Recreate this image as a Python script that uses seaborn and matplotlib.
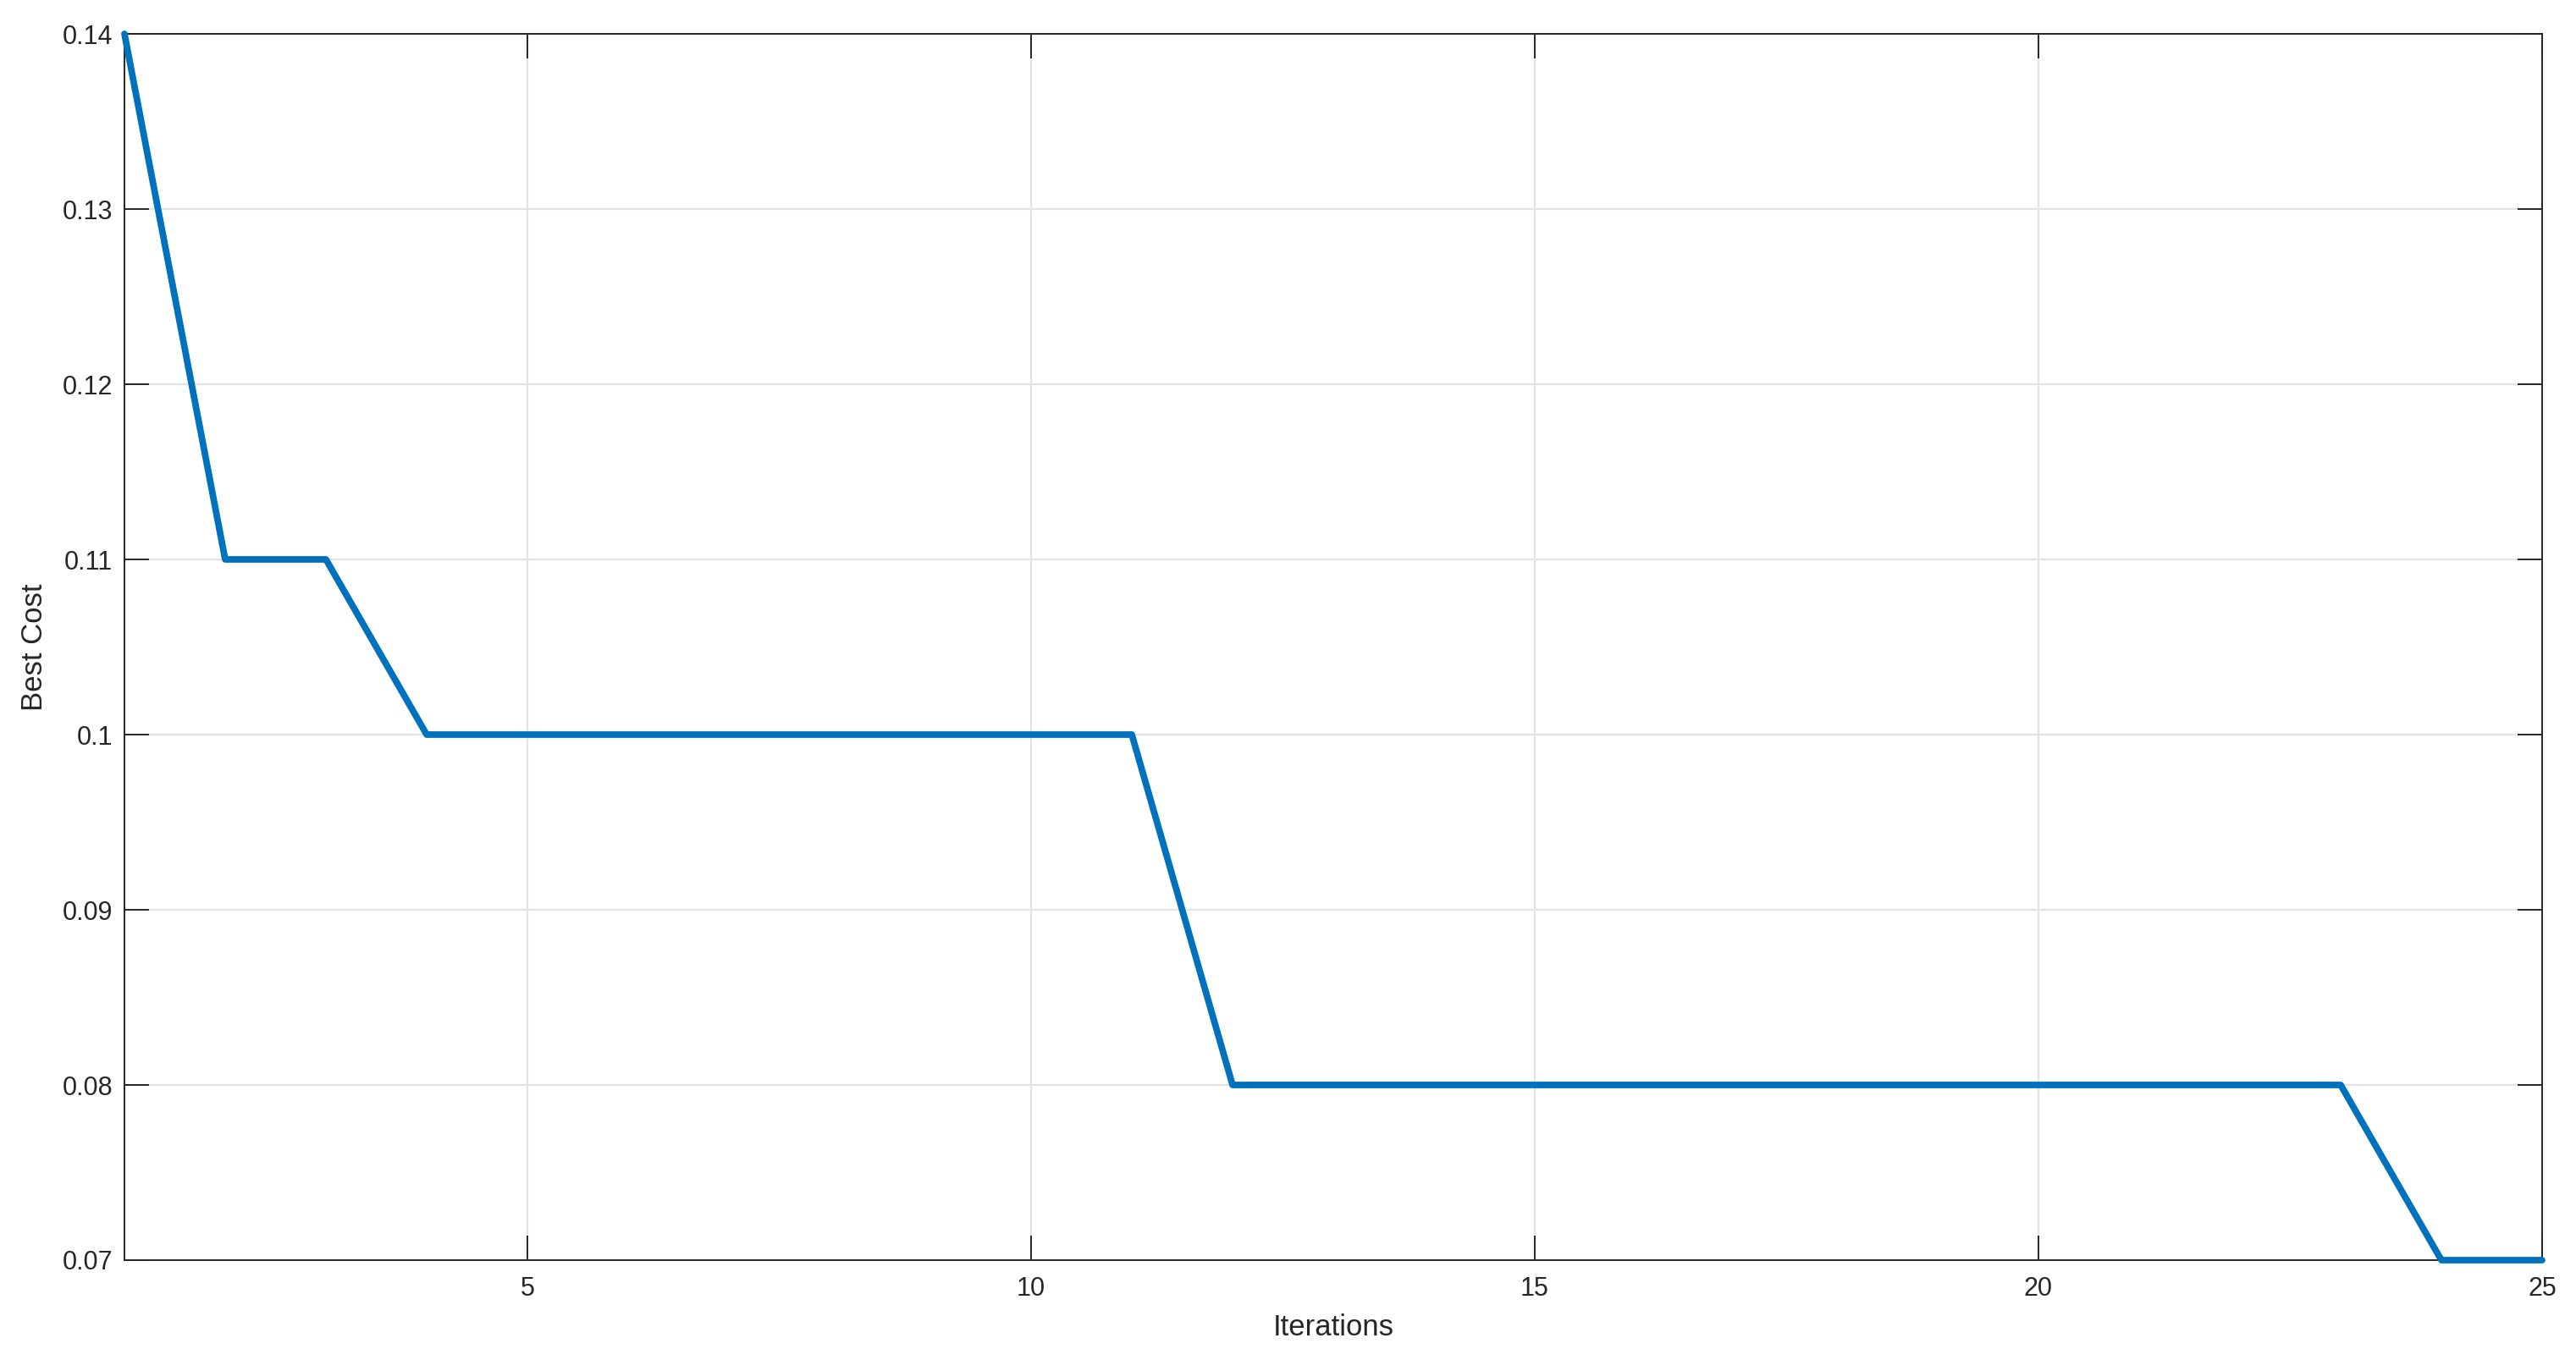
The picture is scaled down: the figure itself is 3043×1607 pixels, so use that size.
import pandas as pd
import matplotlib
matplotlib.use("Agg")
import matplotlib.pyplot as plt
import seaborn as sns

# convergence values
iterations = list(range(1, 26))
best_cost = [0.14, 0.11, 0.11, 0.10, 0.10, 0.10, 0.10, 0.10, 0.10, 0.10, 0.10,
             0.08, 0.08, 0.08, 0.08, 0.08, 0.08, 0.08, 0.08, 0.08, 0.08, 0.08, 0.08,
             0.07, 0.07]
y_ticks = [0.07, 0.08, 0.09, 0.10, 0.11, 0.12, 0.13, 0.14]
y_tick_labels = ["0.07", "0.08", "0.09", "0.1", "0.11", "0.12", "0.13", "0.14"]
x_ticks = [5, 10, 15, 20, 25]

df = pd.DataFrame({"Iterations": iterations, "Best Cost": best_cost})

sns.set_theme(style="white")
plt.rcParams['font.family'] = ['Liberation Sans', 'DejaVu Sans']

fig = plt.figure(figsize=(3043 / 200, 1607 / 200), dpi=200)
ax = fig.add_axes([147 / 3043, 1 - 1489 / 1607, (3003 - 147) / 3043, (1489 - 40) / 1607])

sns.lineplot(data=df, x="Iterations", y="Best Cost", ax=ax,
             color="#0072BD", linewidth=2.8, zorder=3, clip_on=False)

ax.set_xlim(1, 25)
ax.set_ylim(0.07, 0.14)
ax.set_xticks(x_ticks)
ax.set_yticks(y_ticks)
ax.set_yticklabels(y_tick_labels)

ax.grid(True, color="#e3e3e3", linewidth=0.8)
ax.set_axisbelow(True)
for s in ax.spines.values():
    s.set_color("#262626")
    s.set_linewidth(0.7)
    s.set_visible(True)

ax.tick_params(direction="in", length=10.3, width=0.7, color="#262626",
               labelsize=11, labelcolor="#262626", top=True, right=True,
               left=True, bottom=True)
ax.tick_params(axis="y", pad=5)
ax.tick_params(axis="x", pad=7)

ax.set_xlabel("Iterations", fontsize=12.5, color="#262626", labelpad=5)
ax.set_ylabel("Best Cost", fontsize=12.5, color="#262626", labelpad=6)

fig.savefig("out.png", dpi=200)
